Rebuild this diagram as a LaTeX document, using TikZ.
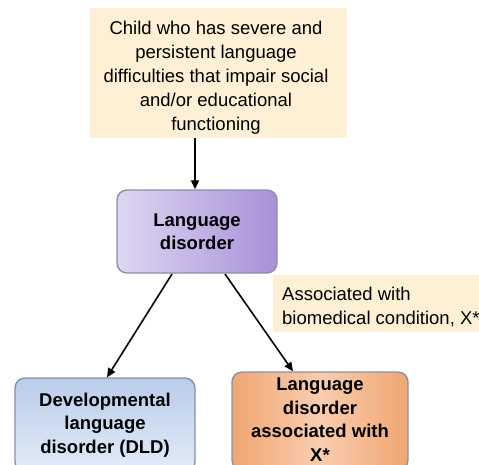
\documentclass[tikz,border=0pt]{standalone}
\usepackage{fontspec}
\setmainfont{Liberation Sans}
\usetikzlibrary{arrows.meta}
\definecolor{cream}{HTML}{FDF0D5}
\definecolor{lavL}{HTML}{DDD7F3}
\definecolor{lavR}{HTML}{A990D8}
\definecolor{bluT}{HTML}{B9CCEA}
\definecolor{bluB}{HTML}{E3ECF8}
\definecolor{orgE}{HTML}{F0A672}
\definecolor{orgC}{HTML}{F9CDB0}
\definecolor{edge}{HTML}{8790A8}
\tikzset{
  note/.style={fill=cream, draw=none, inner sep=0pt},
  boxbase/.style={draw=edge, line width=1.4pt, rounded corners=10pt, inner sep=0pt,
    font=\fontsize{18.5}{23.5}\selectfont\bfseries, align=center},
  purplebox/.style={boxbase, left color=lavL, right color=lavR},
  bluebox/.style={boxbase, top color=bluT, bottom color=bluB},
  orangebox/.style={boxbase, left color=orgE, right color=orgE, middle color=orgC},
  plain/.style={font=\fontsize{18.5}{24}\selectfont, inner sep=0pt},
  link/.style={line width=1.6pt, -{Triangle[length=9pt,width=8pt]}}
}
\begin{document}
\begin{tikzpicture}[x=1pt,y=-1pt]
  \useasboundingbox (0,0) rectangle (479,464);
  \clip (0,0) rectangle (479,464);

  % question box
  \node[note, minimum width=257pt, minimum height=130pt] (top) at (218.5,73) {};
  \node[plain, align=center] (toptext) at (216,78)
    {Child who has severe and\\persistent language\\difficulties that impair social\\and/or educational\\functioning};

  % central diagnosis
  \node[purplebox, minimum width=160pt, minimum height=83pt] (lang) at (197,231.5)
    {Language\\disorder};

  % condition note
  \node[note, minimum width=210pt, minimum height=57pt] (cond) at (378,303.5) {};
  \node[plain, align=left, anchor=west] (condtext) at (282,307)
    {Associated with\\biomedical condition, X*};

  % outcomes
  \node[bluebox, minimum width=180pt, minimum height=94pt] (dld) at (105,425)
    {Developmental\\language\\disorder (DLD)};
  \node[orangebox, minimum width=176pt, minimum height=98pt] (assoc) at (320,421) {};
  \node[font=\fontsize{18.5}{23.5}\selectfont\bfseries, align=center, inner sep=0pt]
    (assoctext) at (320,419.5)
    {Language\\disorder\\associated with\\X*};

  % connectors
  \coordinate (a0) at ([xshift=-2pt]lang.north);
  \draw[link] (top.south -| a0) -- (a0);
  \coordinate (l1) at (172,274);
  \coordinate (l2) at (225,274);
  \draw[link] (l1) -- (dld.north -| 107,0);
  \draw[link] (l2) -- (assoc.north -| 293,0);
\end{tikzpicture}
\end{document}
